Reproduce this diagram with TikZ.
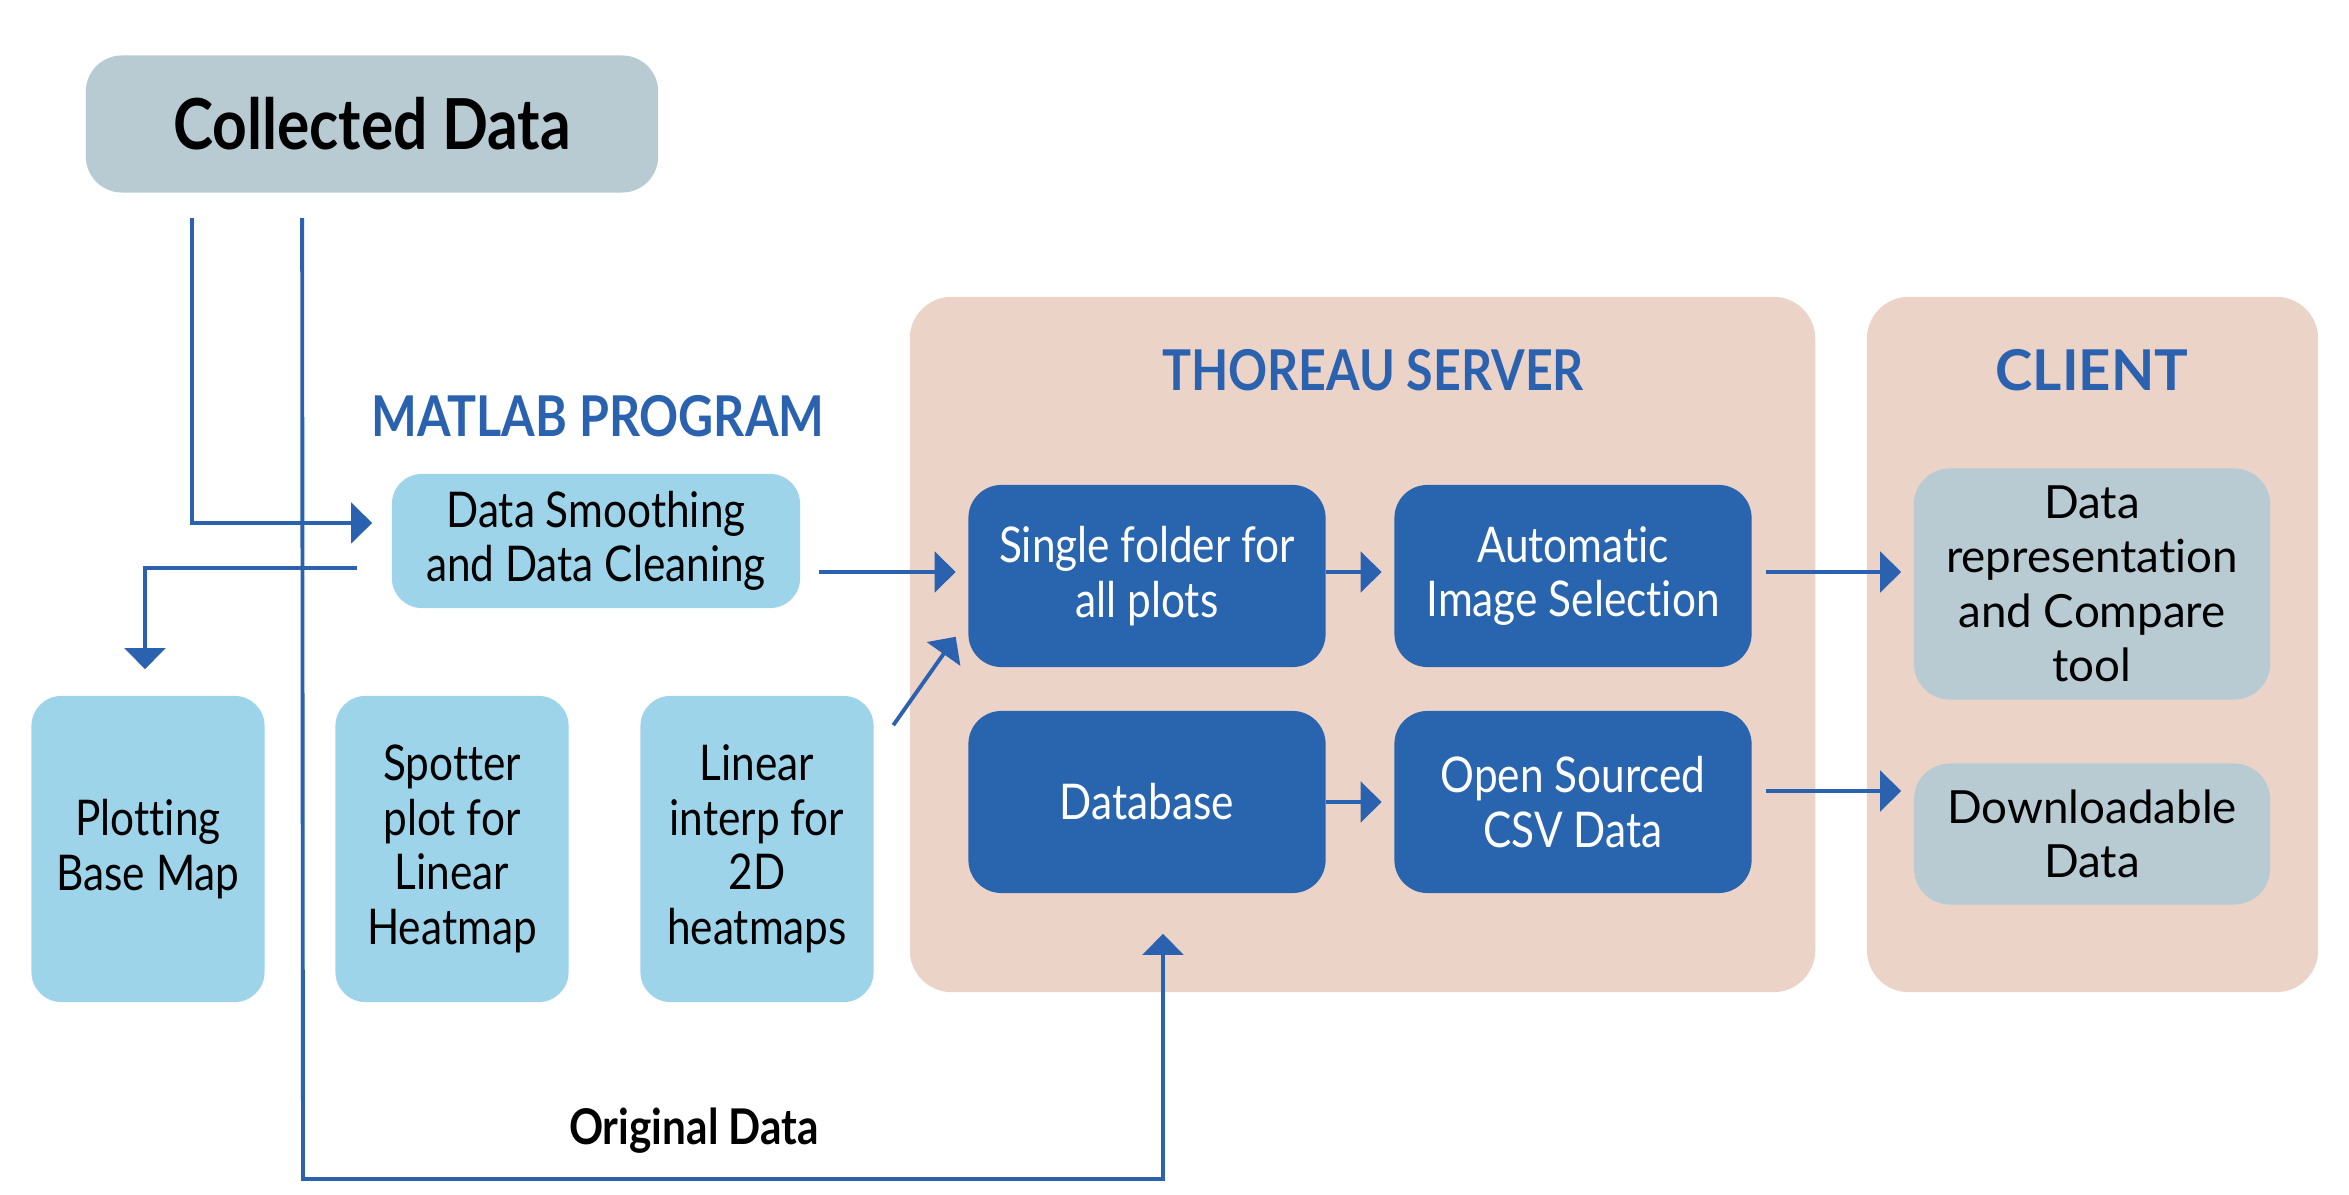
\documentclass[tikz,border=0pt]{standalone}
\usepackage{fontspec}
\setmainfont{Lato}[Ligatures=NoCommon]
\newfontfamily\narrowfont[FakeStretch=0.86, Ligatures=NoCommon]{Lato}
\usetikzlibrary{calc, arrows.meta}
\definecolor{greybox}{HTML}{B8CBD3}
\definecolor{skybox}{HTML}{9DD4EA}
\definecolor{navybox}{HTML}{2964AE}
\definecolor{panelbg}{HTML}{ECD3C8}
\definecolor{linkblue}{HTML}{2B62AF}

\tikzset{
	panel/.style={fill=panelbg, rounded corners=0.42cm, inner sep=0pt},
	title/.style={text=linkblue, font=\narrowfont\bfseries\fontsize{16}{18}\selectfont},
	sky/.style={fill=skybox, rounded corners=0.3cm, align=center, inner sep=0pt, font=\narrowfont\fontsize{14}{15.5}\selectfont},
	navy/.style={fill=navybox, text=white, rounded corners=0.33cm, align=center, inner sep=0pt, minimum width=3.57cm, minimum height=1.82cm, font=\narrowfont\fontsize{14}{15.5}\selectfont},
	grey/.style={fill=greybox, rounded corners=0.36cm, align=center, inner sep=0pt, font=\fontsize{13}{15.5}\selectfont},
	link/.style={draw=linkblue, line width=1.1pt, -{Triangle[length=6pt, width=11.5pt]}}
}

\begin{document}
\begin{tikzpicture}[x=0.01cm, y=-0.01cm]
	\useasboundingbox (0,0) rectangle (2349,1195);

	\node[panel, minimum width=9.05cm, minimum height=6.95cm] (server) at (1362.5,644.5) {};
	\node[panel, minimum width=4.51cm, minimum height=6.95cm] (client) at (2092.5,644.5) {};
	\node[title] (servertitle) at (1373,370) {THOREAU SERVER};
	\node[title, font=\bfseries\fontsize{16}{18}\selectfont] (clienttitle) at (2092,370) {CLIENT};
	\node[title] (matlabtitle) at (598,416) {MATLAB PROGRAM};

	\node[grey, minimum width=5.72cm, minimum height=1.37cm, font=\narrowfont\bfseries\fontsize{20}{22}\selectfont] (collected) at (372,124) {Collected Data};
	\node[sky, minimum width=4.08cm, minimum height=1.34cm] (smooth) at (596,541) {Data Smoothing\\and Data Cleaning};

	\node[sky, minimum width=2.33cm, minimum height=3.06cm] (plotting) at (148,849) {Plotting\\Base Map};
	\node[sky, minimum width=2.33cm, minimum height=3.06cm] (spotter) at (452,849) {Spotter\\plot for\\Linear\\Heatmap};
	\node[sky, minimum width=2.33cm, minimum height=3.06cm] (linear) at (757,849) {Linear\\interp for\\2D\\heatmaps};

	\node[navy] (single) at (1147,576) {Single folder for\\all plots};
	\node[navy] (auto) at (1573,576) {Automatic\\Image Selection};
	\node[navy] (database) at (1147,802) {Database};
	\node[navy] (opensrc) at (1573,802) {Open Sourced\\CSV Data};

	\node[grey, minimum width=3.56cm, minimum height=2.31cm] (datarep) at (2092,584) {Data\\representation\\and Compare\\tool};
	\node[grey, minimum width=3.56cm, minimum height=1.41cm] (download) at (2092,834) {Downloadable\\Data};

	\coordinate (origcorner) at (303,1179);
	\node[font=\narrowfont\bfseries\fontsize{14}{16}\selectfont] (origlbl) at (694,1131) {Original Data};

	\draw[link] ($(collected.south west)+(107,25)$) |- ($(smooth.west)+(-19,-18)$);
	\draw[link] ($(collected.south west)+(217,25)$) -- (origcorner) -| ($(database.south)+(16,40)$);
	\draw[link] ($(smooth.west)+(-34,27)$) -| ($(plotting.north)+(-3,-26)$);
	\draw[link] ($(smooth.east)+(18,31)$) -- ($(single.west)+(-12,-4)$);
	\draw[link] ($(linear.north east)+(19,30)$) -- ($(single.south west)+(-12,-31)$);

	\draw[link] ($(single.east)+(0,-4)$) -- ($(auto.west)+(-12,-4)$);
	\draw[link] (database.east) -- ($(opensrc.west)+(-12,0)$);
	\draw[link] ($(auto.east)+(14,-4)$) -- ($(datarep.west)+(-12,-12)$);
	\draw[link] ($(opensrc.east)+(14,-11)$) -- ($(download.west)+(-12,-43)$);
\end{tikzpicture}
\end{document}
